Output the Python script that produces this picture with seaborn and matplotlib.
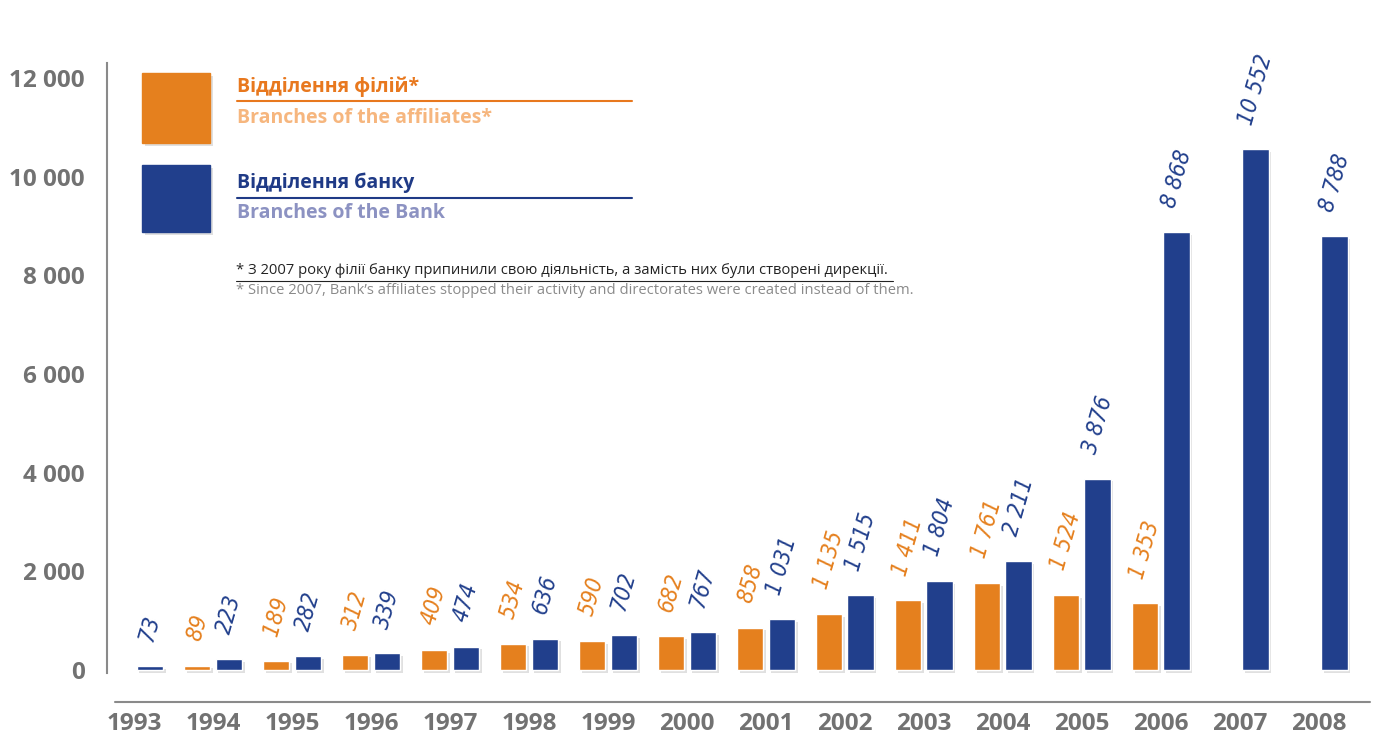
import matplotlib
matplotlib.use("Agg")
import matplotlib.pyplot as plt
from matplotlib.lines import Line2D
from matplotlib.patches import Rectangle
import matplotlib.patheffects as pe
import numpy as np
import pandas as pd
import seaborn as sns

# ---- data -------------------------------------------------------------
years = [str(y) for y in range(1993, 2009)]
affiliates = [np.nan, 89, 189, 312, 409, 534, 590, 682, 858, 1135, 1411, 1761, 1524, 1353, np.nan, np.nan]
bank = [73, 223, 282, 339, 474, 636, 702, 767, 1031, 1515, 1804, 2211, 3876, 8868, 10552, 8788]
series_names = ["Відділення філій", "Відділення банку"]
y_ticks = [0, 2000, 4000, 6000, 8000, 10000, 12000]

ORANGE = "#E5801E"
BLUE = "#213F8C"
GRAY = "#727272"

sns.set_style("white")
plt.rcParams["font.family"] = ["Open Sans", "DejaVu Sans"]

df = pd.DataFrame({
    "year": years * 2,
    "value": affiliates + bank,
    "series": [series_names[0]] * len(years) + [series_names[1]] * len(years),
}).dropna()

W, H = 1376, 736
fig = plt.figure(figsize=(W / 100, H / 100), dpi=100)


def fx(px):
    return px / W


def fy(py):
    return 1 - py / H


ax = fig.add_axes([fx(107), fy(673), (1370 - 107) / W, (673 - 63) / H])

sns.barplot(
    data=df, x="year", y="value", hue="series", order=years,
    hue_order=series_names, palette=[ORANGE, BLUE],
    width=0.8, gap=0.17, dodge=True, legend=False, ax=ax,
    saturation=1, errorbar=None,
)

shadow = [pe.SimplePatchShadow(offset=(2, -2), shadow_rgbFace="#999999", alpha=0.3), pe.Normal()]
for patch in ax.patches:
    patch.set_path_effects(shadow)

ax.set_xlim(-0.342, 15.65)
ax.set_ylim(-61, 12300)


def fmt_num(v):
    return f"{v:,.0f}".replace(",", " ")


ax.set_yticks(y_ticks)
ax.set_yticklabels([fmt_num(v) for v in y_ticks])
ax.tick_params(axis="y", length=0, pad=16, labelsize=17.5, labelcolor=GRAY)
ax.tick_params(axis="x", length=0, pad=28, labelsize=17.5, labelcolor=GRAY)
for lab in ax.get_xticklabels() + ax.get_yticklabels():
    lab.set_fontweight("bold")
ax.set_xlabel("")
ax.set_ylabel("")

for side in ["top", "right", "bottom"]:
    ax.spines[side].set_visible(False)
ax.spines["left"].set_color("#8a8a8a")
ax.spines["left"].set_linewidth(1.5)

# value labels above every bar
for cont, col in zip(ax.containers, [ORANGE, BLUE]):
    ax.bar_label(
        cont, fmt=fmt_num, rotation=74, padding=16, color=col,
        fontsize=16.5, family="DejaVu Sans", style="oblique", stretch="condensed",
    )

# baseline under the chart
fig.add_artist(Line2D([fx(115), fx(1370)], [fy(702), fy(702)], color="#8a8a8a", lw=1.5))

# ---- legend -----------------------------------------------------------
for top, h, col in [(73, 70, ORANGE), (165, 67, BLUE)]:
    sw = Rectangle((fx(142), fy(top + h)), 68 / W, h / H, color=col, transform=fig.transFigure)
    sw.set_path_effects(shadow)
    fig.add_artist(sw)

fig.text(fx(237), fy(87), "Відділення філій*", color="#E8781E", fontsize=14,
         fontweight="bold", va="center", ha="left")
fig.add_artist(Line2D([fx(237), fx(632)], [fy(101), fy(101)], color="#E8781E", lw=1.5))
fig.text(fx(237), fy(118), "Branches of the affiliates*", color="#F6B67E", fontsize=14,
         fontweight="bold", va="center", ha="left")

fig.text(fx(237), fy(183), "Відділення банку", color="#1F3A86", fontsize=14,
         fontweight="bold", va="center", ha="left")
fig.add_artist(Line2D([fx(237), fx(632)], [fy(198), fy(198)], color="#1F3A86", lw=1.5))
fig.text(fx(237), fy(213), "Branches of the Bank", color="#8C92C2", fontsize=14,
         fontweight="bold", va="center", ha="left")

# footnote
fig.text(fx(236), fy(271), "* З 2007 року філії банку припинили свою діяльність, а замість них були створені дирекції.",
         color="#222222", fontsize=10.6, va="center", ha="left")
fig.add_artist(Line2D([fx(236), fx(893)], [fy(281), fy(281)], color="#222222", lw=0.8))
fig.text(fx(236), fy(291), "* Since 2007, Bank’s affiliates stopped their activity and directorates were created instead of them.",
         color="#8a8a8a", fontsize=10.6, va="center", ha="left")

fig.savefig("out.png", dpi=100, facecolor="white")
